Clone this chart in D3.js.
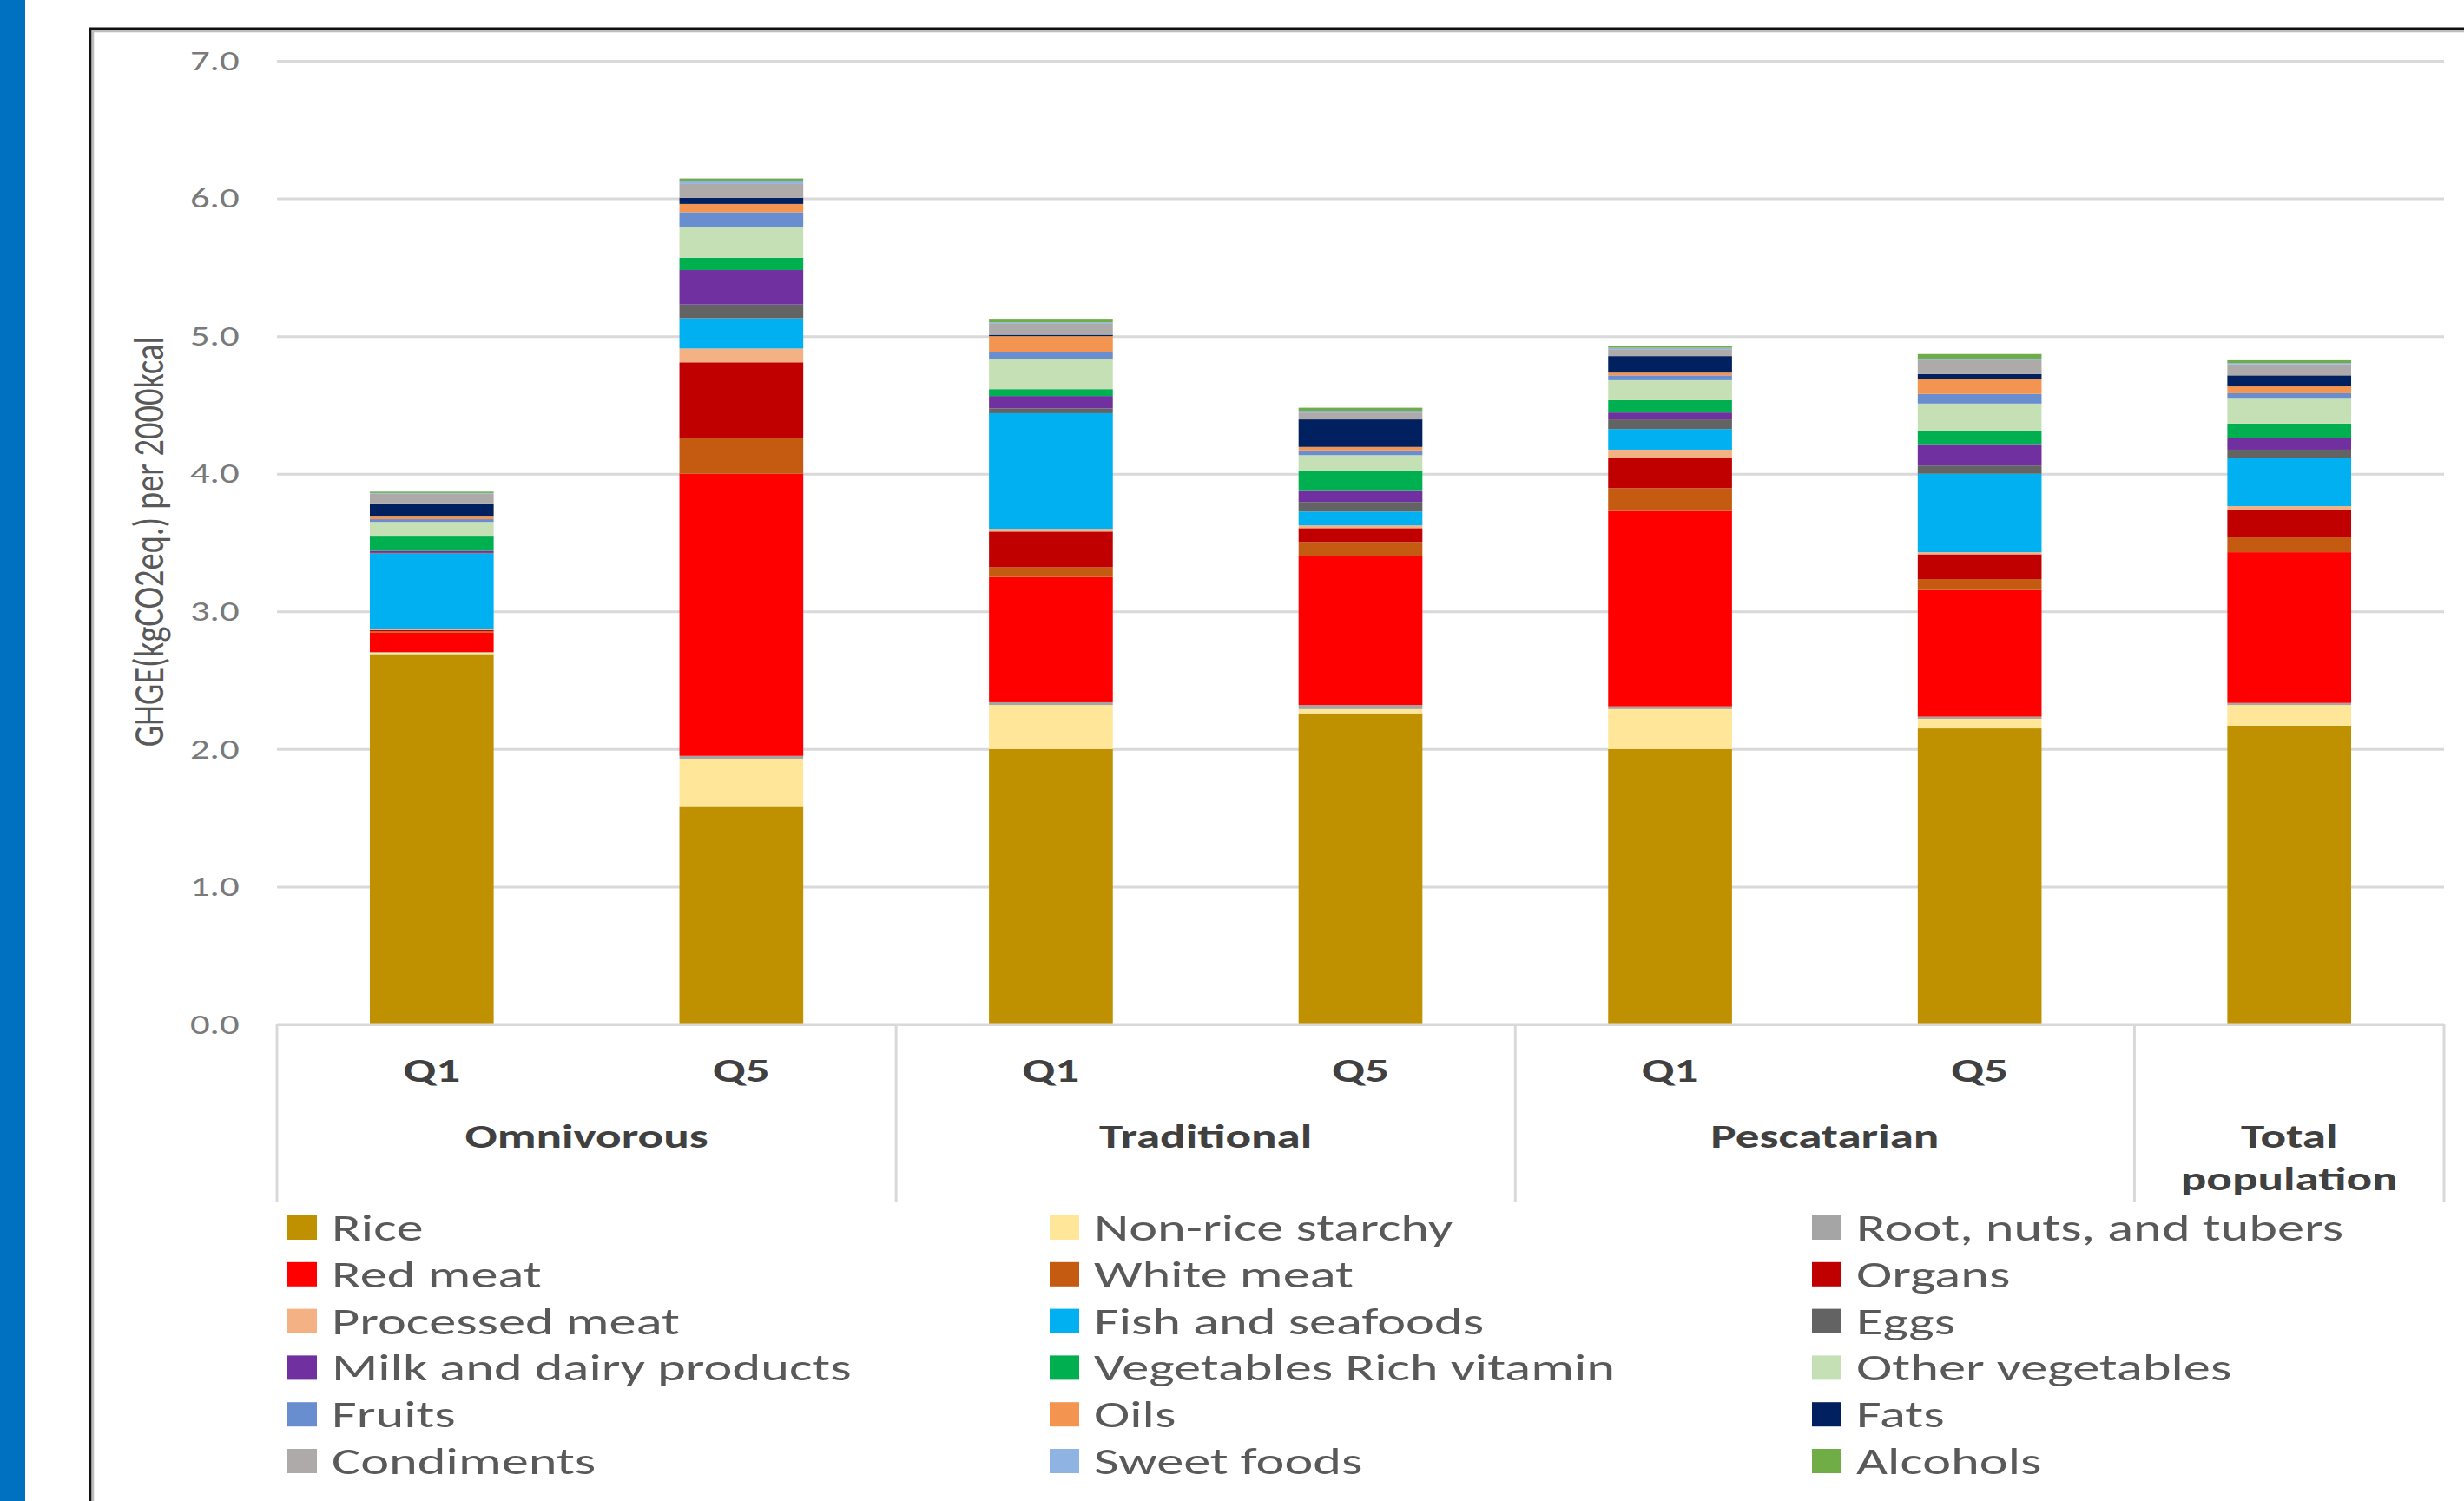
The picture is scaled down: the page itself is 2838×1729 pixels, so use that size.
<!DOCTYPE html>
<html>
<head>
<meta charset="utf-8">
<script src="https://cdn.jsdelivr.net/npm/d3@7"></script>
<style>
  html, body { margin: 0; padding: 0; background: #fff; }
  svg { display: block; }
  text { font-family: Carlito, Calibri, Lato, sans-serif; }
</style>
</head>
<body>
<div id="chart"></div>
<script>
// ---- data (GHGE kgCO2eq per 2000kcal) ----
const quintiles = ["Q1", "Q5", "Q1", "Q5", "Q1", "Q5", ""];
const dietGroups = ["Omnivorous", "Traditional", "Pescatarian", "Total population"];
const groupSpan = [2, 2, 2, 1];
const yTicks = [0, 1, 2, 3, 4, 5, 6, 7];

const foods = ["Rice", "Non-rice starchy", "Root, nuts, and tubers",
               "Red meat", "White meat", "Organs",
               "Processed meat", "Fish and seafoods", "Eggs",
               "Milk and dairy products", "Vegetables Rich vitamin", "Other vegetables",
               "Fruits", "Oils", "Fats",
               "Condiments", "Sweet foods", "Alcohols"];
const foodColors = ["#BF9000", "#FFE699", "#A5A5A5",
                    "#FF0000", "#C55A11", "#C00000",
                    "#F4B183", "#00B0F0", "#636363",
                    "#7030A0", "#00B050", "#C5E0B4",
                    "#698ED0", "#F39450", "#002060",
                    "#AEAAAA", "#8FB4E3", "#70AD47"];

const rice       = [2.69, 1.58, 2.00, 2.26, 2.00, 2.15, 2.17];
const nonRice    = [0.01, 0.35, 0.32, 0.03, 0.29, 0.07, 0.15];
const roots      = [0.005, 0.02, 0.02, 0.03, 0.02, 0.015, 0.015];
const redMeat    = [0.14, 2.05, 0.91, 1.08, 1.42, 0.92, 1.095];
const whiteMeat  = [0.01, 0.26, 0.07, 0.105, 0.165, 0.08, 0.11];
const organs     = [0.01, 0.55, 0.26, 0.10, 0.22, 0.18, 0.20];
const processed  = [0.005, 0.10, 0.02, 0.02, 0.06, 0.015, 0.025];
const fish       = [0.55, 0.22, 0.84, 0.10, 0.15, 0.57, 0.35];
const eggs       = [0.005, 0.10, 0.035, 0.07, 0.07, 0.06, 0.06];
const milk       = [0.015, 0.25, 0.09, 0.08, 0.05, 0.15, 0.085];
const vegRich    = [0.11, 0.09, 0.05, 0.15, 0.09, 0.10, 0.105];
const otherVeg   = [0.10, 0.22, 0.22, 0.11, 0.145, 0.20, 0.18];
const fruits     = [0.02, 0.11, 0.05, 0.035, 0.035, 0.07, 0.04];
const oils       = [0.025, 0.06, 0.115, 0.025, 0.02, 0.11, 0.05];
const fats       = [0.09, 0.045, 0.01, 0.20, 0.12, 0.035, 0.08];
const condiments = [0.07, 0.10, 0.08, 0.05, 0.05, 0.10, 0.08];
const sweetFoods = [0.005, 0.02, 0.01, 0.01, 0.01, 0.01, 0.01];
const alcohols   = [0.01, 0.02, 0.02, 0.025, 0.015, 0.035, 0.02];

const seriesValues = [rice, nonRice, roots, redMeat, whiteMeat, organs,
                      processed, fish, eggs, milk, vegRich, otherVeg,
                      fruits, oils, fats, condiments, sweetFoods, alcohols];

// one row per bar, built from the arrays above
const rows = quintiles.map((q, i) => {
    let row = {id: i};
    foods.forEach((f, k) => row[f] = seriesValues[k][i]);
    return row;
});

// ---- setup ----
const W = 2838, H = 1729;
const SX = 1.45;          // the source picture is stretched sideways
const textColor = "#595959";

const svg = d3.select("#chart").append("svg")
    .attr("width", W)
    .attr("height", H);

svg.append("rect").attr("width", W).attr("height", H).attr("fill", "#fff");

// blue strip + black frame of the slide
svg.append("rect").attr("x", 0).attr("y", 0).attr("width", 29).attr("height", H).attr("fill", "#0070C0");
svg.append("path").attr("d", `M104,${H} V33 H${W}`)
    .attr("fill", "none").attr("stroke", "#111").attr("stroke-width", 3);
svg.append("path").attr("d", `M107,${H} V36 H${W}`)
    .attr("fill", "none").attr("stroke", "#bdbdbd").attr("stroke-width", 2.5);

const plotLeft = 319, plotRight = 2815;
const x = d3.scaleBand()
    .domain(rows.map(d => d.id))
    .range([plotLeft, plotRight])
    .paddingInner(0.6)
    .paddingOuter(0.3);

const y = d3.scaleLinear()
    .domain([0, 7])
    .range([1180, 70]);

// y axis with gridlines
const yAxis = svg.append("g")
    .attr("transform", `translate(${plotLeft},0)`)
    .call(d3.axisLeft(y)
          .tickValues(yTicks)
          .tickFormat(d3.format(".1f"))
          .tickSize(-(plotRight - plotLeft))
          .tickPadding(31));
yAxis.select(".domain").remove();
yAxis.selectAll(".tick line")
    .attr("stroke", "#D9D9D9")
    .attr("stroke-width", 3);
yAxis.selectAll(".tick text")
    .attr("fill", "#7a7a7a")
    .attr("font-size", 32)
    .attr("transform", `scale(1.4,1)`);

// y title
svg.append("text")
    .attr("transform", `translate(188,624) scale(1.3,1) rotate(-90)`)
    .attr("text-anchor", "middle")
    .attr("font-size", 38.5)
    .attr("fill", textColor)
    .text("GHGE(kgCO2eq.) per 2000kcal");

// stacked bars
const stack = d3.stack().keys(foods);
const layers = stack(rows);

svg.append("g")
    .selectAll("g")
    .data(layers)
    .join("g")
    .attr("fill", (d, i) => foodColors[i])
    .selectAll("rect")
    .data(d => d)
    .join("rect")
    .attr("x", d => x(d.data.id))
    .attr("width", x.bandwidth())
    .attr("y", d => y(d[1]))
    .attr("height", d => y(d[0]) - y(d[1]));

// ---- category axis (two levels) ----
const step = x.step();
const axisBottom = 1385;
svg.append("line")
    .attr("x1", plotLeft).attr("x2", plotRight)
    .attr("y1", y(0)).attr("y2", y(0))
    .attr("stroke", "#D9D9D9").attr("stroke-width", 3);

function stretchedText(px, py, str, size, color) {
    svg.append("text")
        .attr("transform", `translate(${px},${py}) scale(${SX},1)`)
        .attr("text-anchor", "middle")
        .attr("font-size", size)
        .attr("font-weight", 600)
        .attr("fill", color)
        .text(str);
}

quintiles.forEach((q, i) => {
    if (q) stretchedText(x(i) + x.bandwidth() / 2, 1246, q, 38, "#404040");
});

let start = 0;
dietGroups.forEach((g, gi) => {
    let x0 = plotLeft + start * step;
    let x1 = plotLeft + (start + groupSpan[gi]) * step;
    svg.append("line")
        .attr("x1", x0).attr("x2", x0)
        .attr("y1", y(0)).attr("y2", axisBottom)
        .attr("stroke", "#D9D9D9").attr("stroke-width", 3);
    let words = g === "Total population" ? ["Total", "population"] : [g];
    words.forEach((w, wi) => stretchedText((x0 + x1) / 2, 1322 + wi * 49, w, 38, "#404040"));
    start += groupSpan[gi];
});
svg.append("line")
    .attr("x1", plotRight).attr("x2", plotRight)
    .attr("y1", y(0)).attr("y2", axisBottom)
    .attr("stroke", "#D9D9D9").attr("stroke-width", 3);

// ---- legend, 3 columns, row-wise ----
const legendCols = [331, 1209, 2087];
const legendRow0 = 1414, legendRowStep = 53.8;

const legend = svg.append("g")
    .selectAll("g")
    .data(foods)
    .join("g")
    .attr("transform", (d, i) =>
          `translate(${legendCols[i % 3]},${legendRow0 + Math.floor(i / 3) * legendRowStep})`);

legend.append("rect")
    .attr("x", 0).attr("y", -14)
    .attr("width", 34).attr("height", 28)
    .attr("fill", (d, i) => foodColors[i]);

legend.append("text")
    .attr("transform", `translate(51,15) scale(${SX},1)`)
    .attr("font-size", 43)
    .attr("fill", textColor)
    .text(d => d);
</script>
</body>
</html>
